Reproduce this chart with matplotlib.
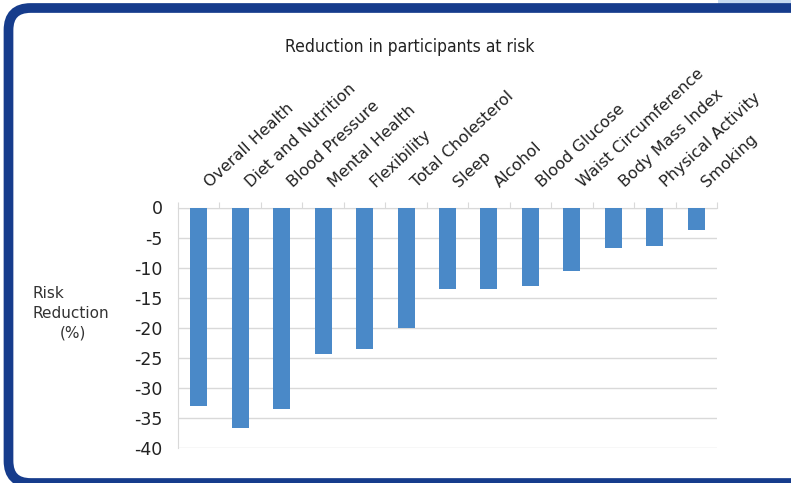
import matplotlib.pyplot as plt
from matplotlib.patches import FancyBboxPatch, Rectangle

plt.rcParams["font.family"] = "DejaVu Sans"

# Risk reduction per health category (%)
categories = ["Overall Health", "Diet and Nutrition", "Blood Pressure", "Mental Health",
              "Flexibility", "Total Cholesterol", "Sleep", "Alcohol", "Blood Glucose",
              "Waist Circumference", "Body Mass Index", "Physical Activity", "Smoking"]
reduction = [-33.1, -36.7, -33.5, -24.4, -23.5, -20.1, -13.6, -13.5, -13.1,
             -10.5, -6.7, -6.4, -3.7]
y_ticks = [0, -5, -10, -15, -20, -25, -30, -35, -40]

bar_color = "#4a89c8"
grid_color = "#d9d9d9"
frame_blue = "#163c8c"

fig = plt.figure(figsize=(7.91, 4.83), dpi=100)

# light tab top right, then the rounded frame
fig.patches.append(Rectangle((718 / 791, 1 - 4 / 483), 73 / 791, 4 / 483,
                             transform=fig.transFigure, facecolor="#c6daf1",
                             edgecolor="none", zorder=0))
fig.patches.append(FancyBboxPatch((8.5 / 791, 0 / 483), 820 / 791, 475 / 483,
                                  boxstyle="round,pad=0,rounding_size=0.028",
                                  mutation_aspect=791 / 483,
                                  transform=fig.transFigure, facecolor="white",
                                  edgecolor=frame_blue, linewidth=7, zorder=1))

ax = fig.add_axes([178 / 791, 1 - 447.7 / 483, 539 / 791, 240.2 / 483])
ax.set_zorder(2)
ax.patch.set_alpha(0)

x = list(range(len(categories)))
ax.bar(x, reduction, width=0.41, color=bar_color, zorder=3)

ax.set_xlim(-0.5, len(categories) - 0.5)
ax.set_ylim(-40, 0)
ax.set_yticks(y_ticks)
ax.set_yticklabels([str(v) for v in y_ticks], fontsize=12.5, color="#222222")
ax.tick_params(axis="y", length=0, pad=11)
ax.yaxis.grid(True, color=grid_color, linewidth=1, zorder=0)

# tick marks at category boundaries along the zero line
ax.set_xticks([i - 0.5 for i in range(len(categories) + 1)])
ax.set_xticklabels([])
ax.tick_params(axis="x", bottom=False, top=True, direction="out", length=4,
               color=grid_color)

for side in ["right", "bottom"]:
    ax.spines[side].set_visible(False)
ax.spines["top"].set_color(grid_color)
ax.spines["left"].set_color(grid_color)

# slanted category labels above the bars
for i, name in enumerate(categories):
    ax.annotate(name, xy=(i, 1), xycoords=("data", "axes fraction"),
                xytext=(8, 14), textcoords="offset points",
                rotation=43, rotation_mode="anchor", ha="left", va="baseline",
                fontsize=11.5, color="#222222")

fig.text(410 / 791, 1 - 47 / 483, "Reduction in participants at risk",
         ha="center", va="center", fontsize=12.5, fontstretch="condensed",
         color="#222222")

fig.text(33 / 791, 1 - 298 / 483, "Risk", ha="left", va="baseline",
         fontsize=11, color="#333333")
fig.text(33 / 791, 1 - 318 / 483, "Reduction", ha="left", va="baseline",
         fontsize=11, color="#333333")
fig.text(73 / 791, 1 - 338 / 483, "(%)", ha="center", va="baseline",
         fontsize=11, color="#333333")

fig.savefig("out.png", dpi=100)
